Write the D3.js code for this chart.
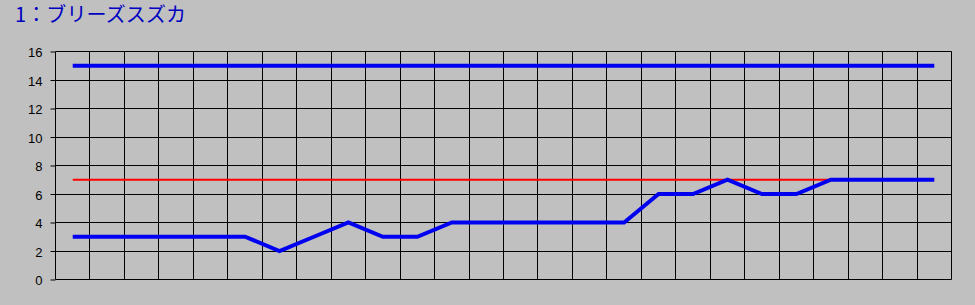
<!DOCTYPE html>
<html>
<head>
<meta charset="utf-8">
<script src="https://cdn.jsdelivr.net/npm/d3@7"></script>
<style>
    body { margin: 0; background: #c0c0c0; }
    svg { display: block; }
    .tick text { font-family: "Liberation Sans", "DejaVu Sans", sans-serif; font-size: 13px; fill: #000; }
</style>
</head>
<body>
<div id="chart"></div>
<script>
// race numbers 1..26 on the x axis (no labels drawn)
var races = d3.range(1, 27);
var upperLine = [15,15,15,15,15,15,15,15,15,15,15,15,15,15,15,15,15,15,15,15,15,15,15,15,15,15];
var rankLine  = [3,3,3,3,3,3,2,3,4,3,3,4,4,4,4,4,4,6,6,7,6,6,7,7,7,7];
var refLine   = [7,7,7,7,7,7,7,7,7,7,7,7,7,7,7,7,7,7,7,7,7,7,7,7,7,7];
var yTicks = [0,2,4,6,8,10,12,14,16];
var title = "1：ブリーズスズカ";

var margin = {top: 51.5, right: 23.5, bottom: 25.5, left: 55.5};
var width = 975 - margin.left - margin.right,
    height = 305 - margin.top - margin.bottom;

var root = d3.select("#chart").append("svg")
    .attr("width", 975)
    .attr("height", 305);

root.append("text")
    .attr("x", 15).attr("y", 22)
    .attr("fill", "#0000c0")
    .attr("textLength", 171)
    .attr("lengthAdjust", "spacing")
    .style("font-family", "'Noto Sans CJK JP', sans-serif")
    .style("font-size", "20px")
    .text(title);

var svg = root.append("g")
    .attr("transform", "translate(" + margin.left + "," + margin.top + ")");

var x = d3.scaleBand()
    .domain(races)
    .range([0, width]);

var y = d3.scaleLinear()
    .domain([0, 16])
    .range([height, 0]);

// vertical grid (band edges)
svg.append("g")
    .selectAll("line")
    .data(races.slice(1))
    .enter().append("line")
    .attr("x1", function(d) { return Math.round(x(d)); })
    .attr("x2", function(d) { return Math.round(x(d)); })
    .attr("y1", 0).attr("y2", height)
    .attr("stroke", "#000");

// horizontal grid + y axis
var yAxis = svg.append("g")
    .call(d3.axisLeft(y).tickValues(yTicks).tickSize(5).tickPadding(8));
yAxis.select(".domain").remove();
yAxis.selectAll(".tick line").attr("stroke", "#000");
yAxis.selectAll(".tick text").attr("dy", "0.4em");

svg.append("g")
    .selectAll("line")
    .data(yTicks)
    .enter().append("line")
    .attr("x1", 0).attr("x2", Math.round(width))
    .attr("y1", function(d) { return Math.round(y(d)); })
    .attr("y2", function(d) { return Math.round(y(d)); })
    .attr("stroke", "#000");

// frame left/right
svg.append("line").attr("x1", 0).attr("x2", 0).attr("y1", 0).attr("y2", height).attr("stroke", "#000");
svg.append("line").attr("x1", Math.round(width)).attr("x2", Math.round(width)).attr("y1", 0).attr("y2", height).attr("stroke", "#000");

var line = d3.line()
    .x(function(d, i) { return x(races[i]) + x.bandwidth() / 2; })
    .y(function(d) { return y(d); });

svg.append("path")
    .datum(refLine)
    .attr("d", line)
    .attr("fill", "none")
    .attr("stroke", "#ff0000")
    .attr("stroke-width", 2);

[upperLine, rankLine].forEach(function(s) {
    svg.append("path")
        .datum(s)
        .attr("d", line)
        .attr("fill", "none")
        .attr("stroke", "#0000f0")
        .attr("stroke-width", 4)
        .attr("stroke-linejoin", "miter");
});
</script>
</body>
</html>
